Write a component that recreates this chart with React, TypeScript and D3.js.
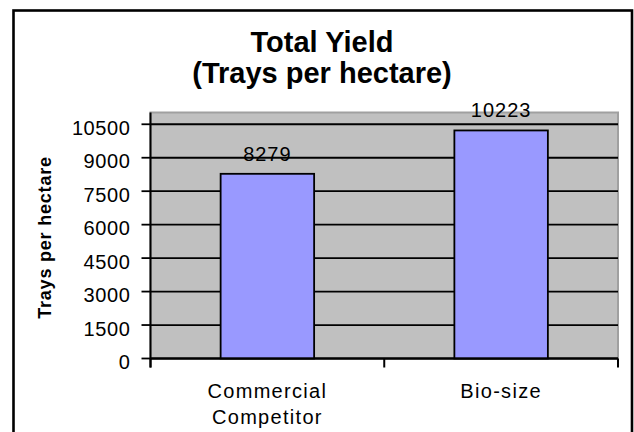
import React from "react";
import * as d3 from "d3";

const categories: string[][] = [["Commercial", "Competitor"], ["Bio-size"]];
const values: number[] = [8279, 10223];
const yTicks: number[] = [0, 1500, 3000, 4500, 6000, 7500, 9000, 10500];
const titleLines: string[] = ["Total Yield", "(Trays per hectare)"];
const yAxisTitle = "Trays per hectare";

const W = 634;
const H = 432;
const plot = { left: 150.5, right: 618, top: 112.5, bottom: 358.5 };

export default function App() {
  const keys = categories.map((_, i) => String(i));
  const x = d3
    .scaleBand<string>()
    .domain(keys)
    .range([plot.left, plot.right])
    .paddingInner(0.6)
    .paddingOuter(0.3);
  const band = d3.scaleBand<string>().domain(keys).range([plot.left, plot.right]);
  const y = d3.scaleLinear().domain([0, 11050]).range([plot.bottom, 112]);
  const font = "'Liberation Sans', Arial, sans-serif";
  const boundaries = [plot.left, ...keys.map((k) => (band(k) as number) + band.bandwidth())];

  return (
    <svg
      width={W}
      height={H}
      style={{ position: "fixed", left: 0, top: 0, background: "#fff" }}
      fontFamily={font}
    >
      <rect x={13.5} y={10.5} width={618.5} height={440} fill="#fff" stroke="#000" strokeWidth={2.6} />
      {titleLines.map((t, i) => (
        <text
          key={t}
          x={322}
          y={51.5 + i * 31}
          textAnchor="middle"
          fontSize={29}
          fontWeight="bold"
          fill="#000"
        >
          {t}
        </text>
      ))}
      <rect
        x={plot.left}
        y={plot.top}
        width={plot.right - plot.left}
        height={plot.bottom - plot.top}
        fill="#c0c0c0"
        stroke="#a0a0a0"
        strokeWidth={2}
      />
      {yTicks.map((t) => (
        <g key={t}>
          <line x1={plot.left} x2={plot.right} y1={y(t)} y2={y(t)} stroke="#000" strokeWidth={1.8} />
          <line x1={plot.left - 9} x2={plot.left} y1={y(t)} y2={y(t)} stroke="#000" strokeWidth={1.8} />
          <text x={130.5} y={y(t) + 10.5} textAnchor="end" fontSize={20} fill="#000" letterSpacing={0.6}>
            {t}
          </text>
        </g>
      ))}
      {values.map((v, i) => {
        const k = keys[i];
        const bx = x(k) as number;
        return (
          <g key={k}>
            <rect
              x={bx}
              y={y(v)}
              width={x.bandwidth()}
              height={y(0) - y(v)}
              fill="#9999ff"
              stroke="#000"
              strokeWidth={1.8}
            />
            <text
              x={bx + x.bandwidth() / 2}
              y={y(v) - 13}
              textAnchor="middle"
              fontSize={20}
              fill="#000"
              letterSpacing={1}
            >
              {v}
            </text>
          </g>
        );
      })}
      <line x1={plot.left} x2={plot.left} y1={plot.top} y2={plot.bottom + 9} stroke="#000" strokeWidth={2} />
      <line x1={plot.left} x2={plot.right} y1={plot.bottom} y2={plot.bottom} stroke="#000" strokeWidth={2} />
      {boundaries.map((b, i) => (
        <line key={i} x1={b} x2={b} y1={plot.bottom} y2={plot.bottom + 9} stroke="#000" strokeWidth={2} />
      ))}
      {categories.map((lines, i) => {
        const k = keys[i];
        const cx = (band(k) as number) + band.bandwidth() / 2;
        return (
          <text key={k} textAnchor="middle" fontSize={20} fill="#000" letterSpacing={1.3}>
            {lines.map((l, j) => (
              <tspan key={l} x={cx} y={398 + j * 26}>
                {l}
              </tspan>
            ))}
          </text>
        );
      })}
      <text
        transform="translate(50.5,237.5) rotate(-90)"
        textAnchor="middle"
        fontSize={18}
        fontWeight="bold"
        fill="#000"
        letterSpacing={0.8}
      >
        {yAxisTitle}
      </text>
    </svg>
  );
}
